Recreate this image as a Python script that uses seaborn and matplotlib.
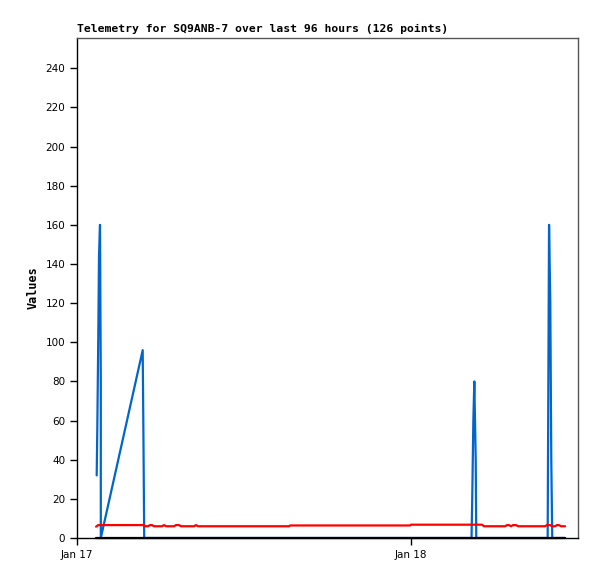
import matplotlib
matplotlib.use("Agg")
import matplotlib.pyplot as plt
import matplotlib.dates as mdates
import seaborn as sns
import pandas as pd
import numpy as np

# hours after Jan 17 00:00
blue_hours = [1.415, 1.459, 1.531, 1.581, 1.653, 1.710, 1.711, 4.721, 4.778,
              4.829, 28.35, 28.40, 28.48, 28.55, 28.65, 28.69, 33.82, 33.87,
              33.92, 34.01, 34.08, 34.15, 35.07]
blue_vals = [32, 56, 104, 144, 160, 80, 0, 96, 48,
             0, 0, 20, 60, 80, 40, 0, 0, 80,
             160, 120, 40, 0, 0]

red_hours = [1.37, 1.53, 4.81, 4.89, 5.10, 5.25, 5.39, 5.53, 6.11, 6.25,
             6.40, 6.97, 7.11, 7.33, 7.47, 8.41, 8.55, 8.69, 15.23, 15.31,
             23.93, 24.00, 29.10, 29.25, 30.76, 30.90, 31.04, 31.19, 31.33,
             31.55, 31.69, 33.63, 33.77, 33.99, 34.13, 34.35, 34.49, 34.63,
             34.78, 35.07]
red_vals = [5.8, 6.6, 6.6, 6.0, 6.0, 6.6, 6.6, 6.0, 6.0, 6.6,
            6.0, 6.0, 6.6, 6.6, 6.0, 6.0, 6.6, 6.0, 6.0, 6.4,
            6.4, 6.8, 6.8, 6.0, 6.0, 6.6, 6.6, 6.0, 6.6,
            6.6, 6.0, 6.0, 6.6, 6.6, 6.0, 6.0, 6.6, 6.6,
            6.0, 6.0]

black_hours = [1.37, 35.07]
black_vals = [0, 0]

start = pd.Timestamp("2024-01-17 00:00")


def frame(hours, vals):
    return pd.DataFrame({"t": start + pd.to_timedelta(hours, unit="h"), "v": vals})


sns.set_style("ticks")
plt.rcParams["font.family"] = ["DejaVu Sans"]
plt.rcParams["text.color"] = "black"
plt.rcParams["xtick.color"] = "black"
plt.rcParams["ytick.color"] = "black"
plt.rcParams["axes.labelcolor"] = "black"

fig = plt.figure(figsize=(5.97, 5.79), dpi=100)
ax = fig.add_axes([77 / 597, 41 / 579, 501 / 597, 500 / 579])

kw = dict(x="t", y="v", estimator=None, sort=False, ax=ax, linewidth=1.6)
sns.lineplot(data=frame(blue_hours, blue_vals), color="#0066cc", **kw)
sns.lineplot(data=frame(red_hours, red_vals), color="#ff0000", **kw)
sns.lineplot(data=frame(black_hours, black_vals), color="black", clip_on=False, **kw)

ax.set_xlim(start, start + pd.Timedelta(hours=36))
ax.set_ylim(0, 255.5)
ax.set_yticks(np.arange(0, 241, 20))
ax.xaxis.set_major_locator(mdates.DayLocator())
ax.xaxis.set_major_formatter(mdates.DateFormatter("%b %d"))
ax.tick_params(labelsize=7.5, length=5, width=1, color="black")
ax.set_xlabel("")
ax.set_ylabel("Values", family="DejaVu Sans Mono", fontweight="bold", fontsize=8.5)
ax.set_title("Telemetry for SQ9ANB-7 over last 96 hours (126 points)",
             loc="left", family="DejaVu Sans Mono", fontweight="bold",
             fontsize=8.2, pad=4, color="black")
for s in ax.spines.values():
    s.set_color("black")
    s.set_linewidth(1)
ax.spines["right"].set_color("#555555")
ax.spines["top"].set_color("#555555")

fig.savefig("out.png", dpi=100)
